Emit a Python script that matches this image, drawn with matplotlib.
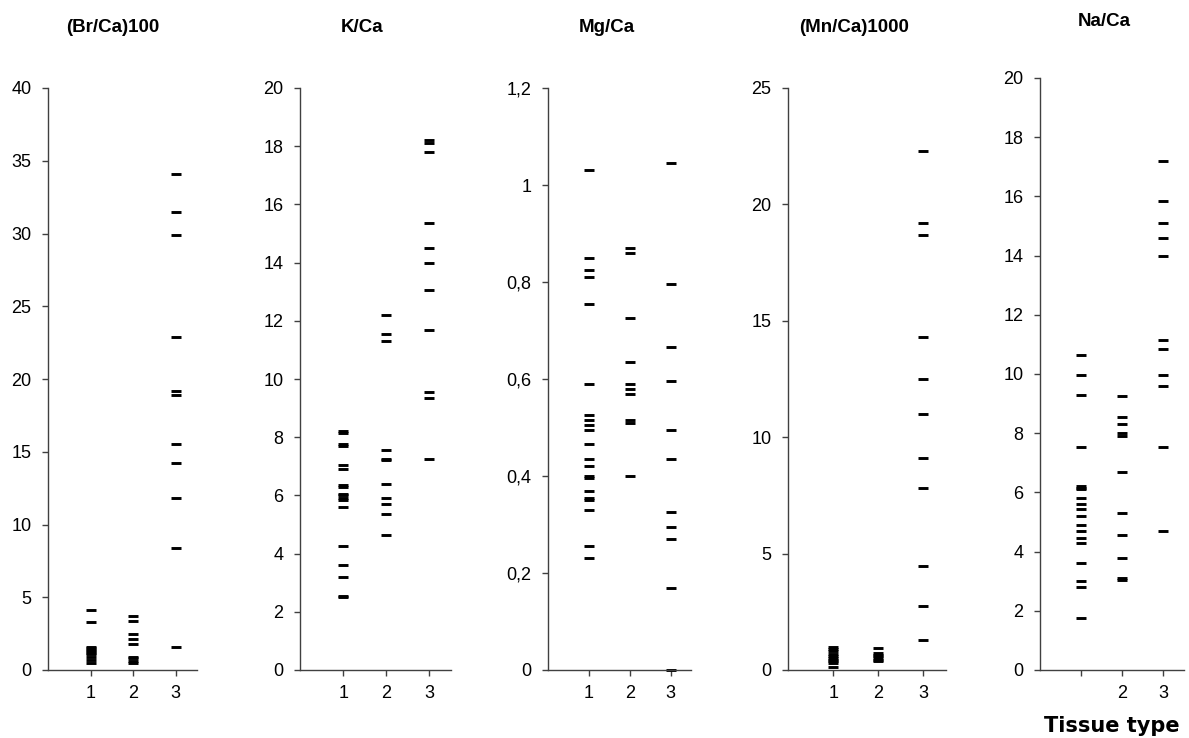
import matplotlib
matplotlib.use('Agg')
import matplotlib.pyplot as plt

plt.rcParams['font.family'] = ['Liberation Sans', 'DejaVu Sans']

# values per tissue type (1, 2, 3) for each ratio
br1 = [4.1, 3.3, 1.6, 1.5, 1.4, 1.3, 1.2, 1.1, 0.9, 0.7, 0.5]
br2 = [3.7, 3.4, 2.5, 2.1, 1.8, 0.9, 0.8, 0.6, 0.5]
br3 = [34.1, 31.5, 29.9, 22.9, 19.2, 18.9, 15.5, 14.2, 11.8, 8.4, 1.6]

k1 = [8.2, 8.15, 7.75, 7.7, 7.05, 6.9, 6.35, 6.3, 6.05, 6.0, 5.9, 5.85, 5.6, 4.25, 3.6, 3.2, 2.55, 2.5]
k2 = [12.2, 11.55, 11.3, 7.55, 7.25, 7.2, 6.4, 5.9, 5.7, 5.35, 4.65]
k3 = [18.2, 18.1, 17.8, 15.35, 14.5, 14.0, 13.05, 11.7, 9.55, 9.35, 7.25]

mg1 = [1.03, 0.85, 0.825, 0.81, 0.755, 0.59, 0.525, 0.515, 0.505, 0.495, 0.465,
       0.435, 0.42, 0.40, 0.395, 0.37, 0.355, 0.35, 0.33, 0.255, 0.23]
mg2 = [0.87, 0.86, 0.725, 0.635, 0.59, 0.58, 0.57, 0.515, 0.51, 0.40]
mg3 = [1.045, 0.795, 0.665, 0.595, 0.495, 0.435, 0.325, 0.295, 0.27, 0.17, 0.0]

mn1 = [1.0, 0.9, 0.8, 0.7, 0.6, 0.5, 0.45, 0.4, 0.3, 0.15]
mn2 = [0.95, 0.75, 0.65, 0.6, 0.5, 0.45, 0.4]
mn3 = [22.3, 19.2, 18.7, 14.3, 12.5, 11.0, 9.1, 7.8, 4.45, 2.75, 1.3]

na1 = [10.65, 9.95, 9.3, 7.55, 6.2, 6.15, 6.1, 5.8, 5.6, 5.45, 5.2, 4.9, 4.7,
       4.45, 4.3, 3.6, 3.0, 2.8, 1.75]
na2 = [9.25, 8.55, 8.3, 8.0, 7.9, 6.7, 5.3, 4.55, 3.8, 3.1, 3.05]
na3 = [17.2, 15.85, 15.1, 14.6, 14.0, 11.15, 10.85, 9.95, 9.6, 7.55, 4.7]

titles = ['(Br/Ca)100', 'K/Ca', 'Mg/Ca', '(Mn/Ca)1000', 'Na/Ca']
groups = [[br1, br2, br3], [k1, k2, k3], [mg1, mg2, mg3], [mn1, mn2, mn3], [na1, na2, na3]]
ymax = [40, 20, 1.2, 25, 20]
ystep = [5, 2, 0.2, 5, 2]
ylabels = [None, None, ['0', '0,2', '0,4', '0,6', '0,8', '1', '1,2'], None, None]
xlabels = [['1', '2', '3']] * 4 + [['', '2', '3']]

W, H = 1189, 738
# axes boxes in pixels: left, right, top
boxes = [(48, 197, 88), (300, 451, 88), (548, 691, 88), (788, 946, 88), (1040, 1184, 78)]
title_x = [113, 362, 607, 854, 1104]
title_y = [27, 27, 27, 27, 22]
bottom_px = 670

fig = plt.figure(figsize=(W / 100, H / 100), dpi=100)

for i in range(5):
    l, r, t = boxes[i]
    ax = fig.add_axes([l / W, (H - bottom_px) / H, (r - l) / W, (bottom_px - t) / H])
    for g, vals in enumerate(groups[i]):
        ax.plot([g + 1] * len(vals), vals, linestyle='none', marker='_',
                markersize=7, markeredgewidth=2.1, color='black', clip_on=False)
    ax.set_xlim(0, 3.5)
    ax.set_ylim(0, ymax[i])
    n = int(round(ymax[i] / ystep[i]))
    yt = [ystep[i] * j for j in range(n + 1)]
    ax.set_yticks(yt)
    if ylabels[i]:
        ax.set_yticklabels(ylabels[i])
    else:
        ax.set_yticklabels([('%g' % v) for v in yt])
    ax.set_xticks([1, 2, 3])
    ax.set_xticklabels(xlabels[i])
    for s in ['top', 'right']:
        ax.spines[s].set_visible(False)
    for s in ['left', 'bottom']:
        ax.spines[s].set_color('#404040')
        ax.spines[s].set_linewidth(1)
    ax.tick_params(direction='out', length=4, width=1, color='#404040',
                   labelsize=13)
    ax.tick_params(axis='y', pad=8)
    ax.tick_params(axis='x', pad=7)
    fig.text(title_x[i] / W, 1 - title_y[i] / H, titles[i], ha='center', va='center',
             fontsize=13.5, fontweight='bold')

fig.text(1112 / W, 1 - 726 / H, 'Tissue type', ha='center', va='center',
         fontsize=15, fontweight='bold', family='DejaVu Sans')

fig.savefig('out.png', dpi=100)
